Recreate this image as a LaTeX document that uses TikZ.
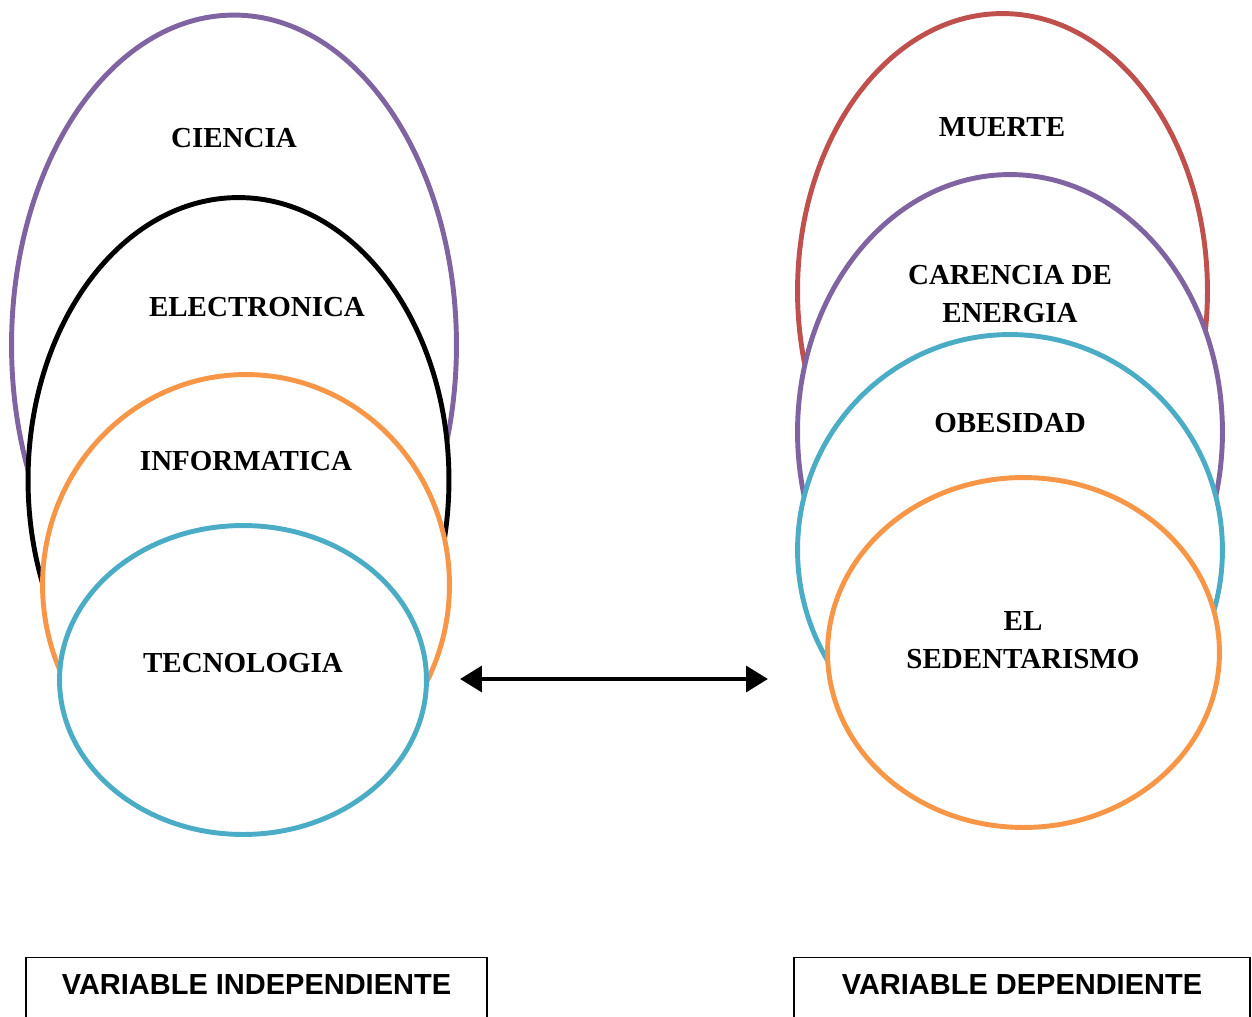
\documentclass[tikz,border=0pt]{standalone}
\usepackage{fontspec}
\setmainfont{Liberation Serif}
\setsansfont{Liberation Sans}
\usepackage{tikz}
\usetikzlibrary{shapes.geometric, arrows.meta, positioning}
\usepackage{xcolor}
\definecolor{morado}{HTML}{8064A2}
\definecolor{naranja}{HTML}{F79646}
\definecolor{celeste}{HTML}{4BACC6}
\definecolor{rojo}{HTML}{C0504D}

\begin{document}
\begin{tikzpicture}
[x = 0.02cm, y = -0.02cm,
 anillo/.style = {ellipse, line width=2.8pt, fill=white, inner sep=0pt},
 etiqueta/.style = {font=\bfseries\fontsize{16.5}{21.5}\selectfont, align=center},
 caja/.style = {rectangle, draw=black, line width=0.85pt, inner sep=0pt},
 titulo/.style = {font=\sffamily\bfseries\fontsize{16.5}{20}\selectfont}]
\clip (0,0) rectangle (1252,1017);

% variable independiente
\node[anillo, draw=morado, minimum width=8.9cm, minimum height=13.2cm] (e1) at (234,345) {};
\node[anillo, draw=black, minimum width=8.42cm, minimum height=11.3cm] (e2) at (238.5,480) {};
\node[anillo, draw=naranja, minimum width=8.14cm, minimum height=8.42cm] (e3) at (246,585) {};
\node[anillo, draw=celeste, minimum width=7.34cm, minimum height=6.18cm] (e4) at (243,680) {};
\node[etiqueta] (n1) at (234,138) {CIENCIA};
\node[etiqueta] (n2) at (257,307) {ELECTRONICA};
\node[etiqueta] (n3) at (246,461) {INFORMATICA};
\node[etiqueta] (n4) at (243,663) {TECNOLOGIA};

% variable dependiente
\node[anillo, draw=rojo, minimum width=8.2cm, minimum height=11.1cm] (d1) at (1002.5,291) {};
\node[anillo, draw=morado, minimum width=8.5cm, minimum height=10.3cm] (d2) at (1010,432) {};
\node[anillo, draw=celeste, minimum width=8.5cm, minimum height=8.62cm] (d3) at (1010,550) {};
\node[anillo, draw=naranja, minimum width=7.84cm, minimum height=7.0cm] (d4) at (1023.5,652.5) {};
\node[etiqueta] (m1) at (1002,127) {MUERTE};
\node[etiqueta] (m2) at (1010,294) {CARENCIA DE\\ENERGIA};
\node[etiqueta] (m3) at (1010,423) {OBESIDAD};
\node[etiqueta] (m4) at (1023,640) {EL\\SEDENTARISMO};

\coordinate (izq) at (460,679);
\coordinate (der) at (768,679);
\draw[line width=2.8pt, {Triangle[length=12.5pt, width=14.5pt]}-{Triangle[length=12.5pt, width=14.5pt]}] (izq) -- (der);

\node[caja, minimum width=9.22cm, minimum height=2cm, anchor=north] (b1) at (256.5,957) {};
\node[caja, minimum width=9.12cm, minimum height=2cm, anchor=north] (b2) at (1022,957) {};
\node[titulo] (t1) at (256.5,985) {VARIABLE INDEPENDIENTE};
\node[titulo] (t2) at (1022,985) {VARIABLE DEPENDIENTE};

\end{tikzpicture}
\end{document}
